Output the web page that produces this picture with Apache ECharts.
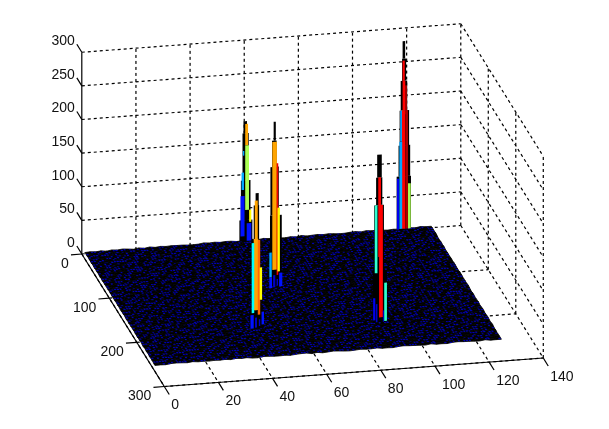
<!DOCTYPE html>
<html><head><meta charset="utf-8">
<style>html,body{margin:0;padding:0;background:#fff}#c{width:609px;height:429px}</style>
<script src="https://cdn.jsdelivr.net/npm/echarts@6/dist/echarts.min.js"></script>
</head><body><div id="c"></div>
<script>
const xTicks=[0,20,40,60,80,100,120,140];
const yTicks=[0,100,200,300];
const zTicks=[0,50,100,150,200,250,300];
// strips: [xLeft, xRight, zLow, zHigh, colourZ]  (colourZ -1 = black edge)
const peakY={a:5,b:200,c:10,d:109,e:192};
const peakA=[[118,118.95,258,284,-1],[117.8,119.3,225,258,-1],[117.3,119.7,181,225,-1],[116.9,120.4,129,181,-1],[116.5,120.8,83,129,-1],[115.8,121.1,5,83,-1],
[118,118.8,225,255,245],[118,119,181,225,245],[118.9,119.6,175,218,269],[117.1,117.85,135,181,81],[117.75,118.95,5,181,245],[119,120,5,181,269],[116.8,117.85,5,135,81],[115.9,116.7,5,80,30],[120,121,5,72,152]];
const peakB=[[88.8,90.5,218,252,-1],[88.4,90.7,177,218,-1],[87.7,91.3,80,177,-1],[87.1,92.4,3,80,-1],
[89.2,90.2,100,218,245],[89.5,90.9,10,177,245],[87.9,88.9,76,177,118],[87.3,88.1,6,39,30],[88.3,88.9,3,30,20],[91.4,92.4,4,61,118],[90.9,91.3,3,20,20]];
const peakC=[[58.7,60,168,186,-1],[58.35,60.65,98,168,-1],[57.75,61.3,39,98,-1],[57.2,62,8,39,-1],
[59.35,60.4,150,182,200],[59.35,60.75,54,150,152],[58.5,59,135,142,81],[58,58.9,84,110,81],[57.6,59.1,15,75,40],[60.8,61.6,36,54,175],[59.9,61.6,8,34,40]];
const peakD=[[59.8,60.6,222,250,-1],[59.2,60.9,183,222,-1],[58.6,61.7,111,183,-1],[58.45,62.8,7,111,-1],
[59.3,61,30,220,200],[60.9,61.5,22,188,250],[61.2,62.1,27,122,175],[58.2,59.1,19,56,81],[61.8,63,5,25,40],[58.2,59.2,3,19,40],[59.6,60.4,4,22,20],[60.9,61.4,6,16,20]];
const peakE=[[44.7,45.85,185,203,-1],[44,46,133,185,-1],[43.25,46.4,29,133,-1],[42.5,47.85,2,29,-1],
[44.4,45.5,29,192,200],[44,45.7,29,135,200],[45.5,46.4,22,133,217],[43.25,44.2,25,129,105],[46.2,47.1,44,92,175],[42.8,44,2,22,40],[46.9,47.8,7,26,40],[44.5,45.2,3,18,20],[45.9,46.4,5,15,20]];
// surface heights on a 64 x 64 grid, low noise floor read as digits
const surfaceRows=[
"3627184950819273644102958376015829473061925837401682957304186295",
"7152940381657024913386275140968302715946083172560493821706452938",
"2846073915520178469230641758392016547839210468375912604783591026",
"9031562748347195820664908213576041389250716438295017463928105746",
"4718295360926038417577310496825183640271958306174825930416728359",
"6293740581180462973558216730941627095384102759648302175869340127",
"1504867293763521084909475218360894123760549281037465928103647582",
"8375012694208916357441830697524036815972046173592840613975028461",
"5960328417654173920880264135791352708649310827496150382947610583",
"2184759036937402581663598207146890423175682903174268053917284056",
"7426901853015836742904173562890216754038917462058391746205839172",
"3059148672482907156328640915372574039186205813746029581364720915",
"9613527840769140328557028316496138204957360281957430618249075136",
"4872063159305682741916947250381420896375148607392518640372951860",
"1738490526841259607330716482957683015294072946185037261984503721",
"6245971308572036941898053174620917542680331850476219507348261094",
"0591632874136804527962487095316028369471582739041685274096315782",
"8367205149904521368715730248691463058271906128475309162847530691",
"3920784615267830159446192570383571946028147503926814075392618407",
"5186429037618049253780325916474902837165260947318526093741582603",
"7402916583931742806051768340296136508492773105849261730584926173",
"2659038471450296183768014925737482916035592640738105962473810596",
"9018375264172683045923596710488015264739316402857943160285794316",
"4371862095806139472561740382951726403981580239176408523917640852",
"6825140937249507816334982615079051837246497316025863149702586314",
"1293607548561384029770625148936283590174028147695302814769530281",
"8540739216793012564828417093652960413785314905826147390582614739",
"3716295804138649250756093781240817526394672508139460725081394607",
"5082964173926075381431865024796375902416108347926513810347926518",
"9467013528407912653685230197488162349075935120687419351206874193",
"2134586097583260471928619340752708465319240675938106247593810624",
"7890421653015974386274305862916593018724768132504973681325049736",
"4605172938620493175883976241050847163925316259407183162594071831",
"1352896470864502139746108357929274085136587013469250870134692508",
"6978340215197063842535824916071506923784402958137640295813764029",
"3241759860730516298448967032158361740529915407862391540786239154",
"8506213794582134079660725438917029468153236850194726850194728651",
"5719680342064927851337481206599183527046740615923808061592380640",
"0483927165318560294772939641058462071938583729140652372914065237",
"9274105638845093726101568273946705139284168405937216840593721684",
"1638574902297146350859420683173961725048352096817439209681743920",
"6052391847703568219432687140595048136279614730958264730958264173",
"3897046521146902738559213758604736590142087326149580732614958073",
"7124658390680417592335069214879124837560493857102649385710264938",
"4560812973952740316817836095241590621487360142975806014297580601",
"8913267405218593640746729103586071394825729068351472906835147290",
"2375940186467301829560184376925382517094841506973284150697328415",
"5648103729035862471979526048131906478253296180347526180347592618",
"0926785314708149326561093572846529370814503762941880376294188037",
"7381529640391627058428746193052813905467679240185326924018532692",
"3145072896624085173950381729460764218935138596027413859602741385",
"9760438152157930462684625170395041873629462013789504620137895046",
"6207891534876312905147905362818592046713705841623970584162397058",
"1854326079043569718232168047956237195804281397450628139745062813",
"4492615783910784263576392851047465083912536074981253607498125360",
"8031764295635209187448107936525720314869170582634917058263491705",
"2768350941182746539009531278643958642170843961027584396102758439",
"5319042867497081325664290835171308796254625483917062548391706254",
"9645287013760352914817463059284629135780309127648530912764853091",
"0172936458251846709339607142585847062913784530291678453029167845",
"7586401329036924185762981503746103958274156092873415609287341560",
"3420179685819356027414026789353762941508627148503962714850396271",
"6893524170472018693538591746020437185269093365718240336571824033",
"1207863945364729581076324058918159620374481207965318120796531812"];
const surfaceColorZ=14, colorTop=280;

// view projection of the 3-D axes box onto the page plane
const O=[81.8,254], VX=[2.707,-0.2036], VY=[0.275,0.4417], VZ=-0.6725;
const P=(x,y,z)=>[O[0]+VX[0]*x+VY[0]*y, O[1]+VX[1]*x+VY[1]*y+VZ*z];
const cl=v=>Math.max(0,Math.min(1,v));
function jet(z){const t=z/colorTop;const c=v=>Math.round(255*cl(1.5-Math.abs(4*t-v)));return `rgb(${c(3)},${c(2)},${c(1)})`;}

// lines [x1,y1,z1,x2,y2,z2,dashed]
const lines=[];
const add=(a,b,d)=>lines.push([a[0],a[1],a[2],b[0],b[1],b[2],d]);
const xM=140,yM=300,zM=300;
xTicks.forEach(x=>{ if(x>0){add([x,0,0],[x,0,zM],1);} add([x,0,0],[x,yM,0],1); });
yTicks.forEach(y=>{ add([0,y,0],[xM,y,0],1); if(y>0) add([xM,y,0],[xM,y,zM],1); });
zTicks.forEach(z=>{ if(z>0){add([0,0,z],[xM,0,z],1); add([xM,0,z],[xM,yM,z],1);} });
add([0,0,0],[0,0,zM],0); add([0,0,0],[0,yM,0],0); add([0,yM,0],[xM,yM,0],0);
xTicks.forEach(x=>add([x,yM,0],[x,yM+18,0],0));
yTicks.forEach(y=>add([0,y,0],[-4,y,0],0));
zTicks.forEach(z=>add([0,0,z],[0,-18,z],0));

// surface cells
const nC=64,nR=surfaceRows.length,sx=128/nC,sy=255/nR;
const H=(i,j)=>{const r=surfaceRows[Math.min(j,nR-1)];return 2+(+r.charAt(Math.min(i,nC-1))||0)*0.17;};
const cells=[];for(let j=0;j<nR;j++)for(let i=nC-1;i>=0;i--)cells.push([i,j,+surfaceRows[j].charAt(i)||0]);

// peaks, back to front
const strips=[];[[peakA,peakY.a],[peakC,peakY.c],[peakD,peakY.d],[peakE,peakY.e],[peakB,peakY.b]].forEach(([p,y])=>p.forEach(s=>strips.push([s[0],s[1],s[2],s[3],s[4],y])));

const labels=[];
zTicks.forEach(z=>{const p=P(0,0,z);labels.push([String(z),p[0]-7,p[1]-11,'right']);});
yTicks.forEach(y=>{const p=P(0,y,0);labels.push([String(y),p[0]-13,p[1]+10,'right']);});
xTicks.forEach(x=>{const p=P(x,yM,0);labels.push([String(x),p[0]+7,p[1]+19,'left']);});

const chart=echarts.init(document.getElementById('c'),null,{renderer:'canvas'});
const C=(api,p)=>api.coord(p);
chart.setOption({
 animation:false,backgroundColor:'#fff',
 grid:{left:0,right:0,top:0,bottom:0},
 xAxis:{type:'value',min:0,max:609,show:false},
 yAxis:{type:'value',min:0,max:429,inverse:true,show:false},
 tooltip:{show:false},
 series:[
 {type:'custom',coordinateSystem:'cartesian2d',silent:true,clip:false,data:lines,encode:{x:0,y:1},
  renderItem(p,api){const a=C(api,P(api.value(0),api.value(1),api.value(2))),b=C(api,P(api.value(3),api.value(4),api.value(5)));
   return {type:'line',shape:{x1:a[0],y1:a[1],x2:b[0],y2:b[1]},style:{stroke:'#000',lineWidth:1.2,lineDash:api.value(6)?[3,3]:null,fill:null}};}},
 {type:'custom',coordinateSystem:'cartesian2d',silent:true,clip:false,data:cells,encode:{x:0,y:1},
  renderItem(p,api){const i=api.value(0),j=api.value(1),d=api.value(2);
   const X=k=>1+k*sx, Y=k=>1+k*sy;
   const q=[[i,j],[i+1,j],[i+1,j+1],[i,j+1]];
   const pts=q.map(([a,b])=>C(api,P(X(a),Y(b),H(a,b))));
   const kids=[{type:'polygon',shape:{points:pts},style:{fill:'#000',stroke:'#000',lineWidth:0.8}}];
   const dash=(a0,a1)=>{const q2=[[i+a0,j+0.15],[i+a1,j+0.15],[i+a1,j+0.88],[i+a0,j+0.88]];
     kids.push({type:'polygon',shape:{points:q2.map(([a,b])=>C(api,P(X(a),Y(b),H(i,j))))},style:{fill:jet(surfaceColorZ)}});};
   if(d>=5) dash(0.05,0.42);
   if(d%2===0) dash(0.55,0.95);
   return {type:'group',children:kids};}},
 {type:'custom',coordinateSystem:'cartesian2d',silent:true,clip:false,data:strips,encode:{x:0,y:1},
  renderItem(p,api){const xl=api.value(0),xr=api.value(1),zl=api.value(2),zh=api.value(3),c=api.value(4),y=api.value(5);
   const pts=[[xl,zl],[xr,zl],[xr,zh],[xl,zh]].map(([x,z])=>C(api,P(x,y,z)));
   return {type:'polygon',shape:{points:pts},style:{fill:c<0?'#000':jet(c)}};}},
 {type:'custom',coordinateSystem:'cartesian2d',silent:true,clip:false,data:labels.map(l=>[l[1],l[2]]),encode:{x:0,y:1},
  renderItem(p,api){const c=C(api,[api.value(0),api.value(1)]);const l=labels[p.dataIndex];
   return {type:'text',style:{text:l[0],x:c[0],y:c[1],fill:'#111',align:l[3],verticalAlign:'middle',font:'14px "Liberation Sans", Arial, sans-serif'}};}}
 ]
});
</script></body></html>
